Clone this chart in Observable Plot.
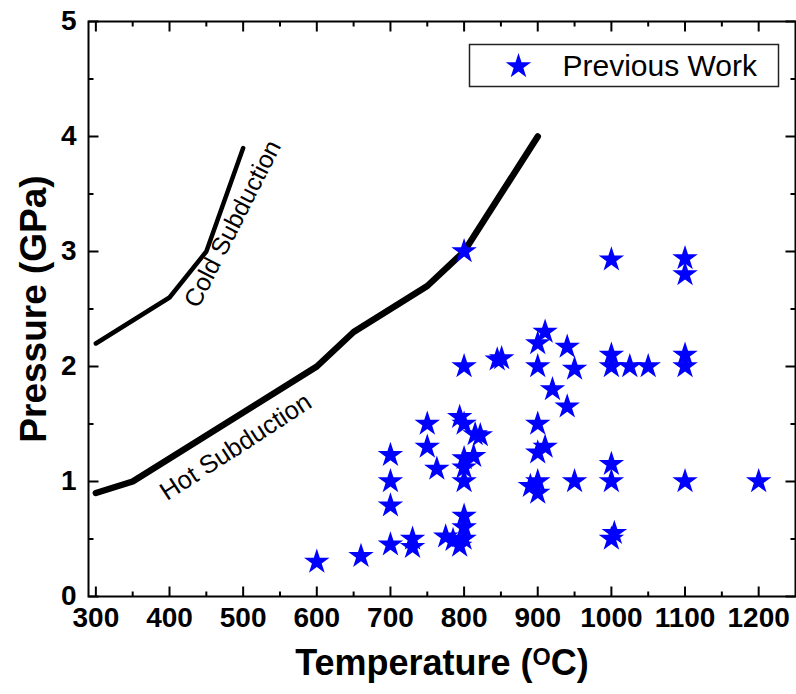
<!DOCTYPE html>
<html><head><meta charset="utf-8">
<script src="https://cdn.jsdelivr.net/npm/d3@7"></script>
<script src="https://cdn.jsdelivr.net/npm/@observablehq/plot@0.6"></script>
<style>
body{margin:0;background:#fff}
#chart svg{font-family:"Liberation Sans", Arial, sans-serif}
</style>
</head><body><div id="chart"></div>
<script>
// ---- data ----
const xDomain = [290, 1250];
const yDomain = [0, 5];
const xTicks = [300, 400, 500, 600, 700, 800, 900, 1000, 1100, 1200];
const xMinorTicks = [350, 450, 550, 650, 750, 850, 950, 1050, 1150];
const yTicks = [0, 1, 2, 3, 4, 5];
const yMinorTicks = [0.5, 1.5, 2.5, 3.5, 4.5];

const coldT = [300, 400, 450, 500];
const coldP = [2.2, 2.6, 3.0, 3.9];
const hotT = [300, 350, 600, 650, 750, 800, 900];
const hotP = [0.9, 1.0, 2.0, 2.3, 2.7, 3.0, 4.0];

const prevT = [600, 660, 700, 700, 700, 700, 730, 730, 750, 750, 763,
  775, 785, 794, 800, 800, 800, 794, 800, 815, 822, 800, 813, 800, 800,
  800, 800, 845, 851, 890, 900, 900, 900, 910, 900,
  900, 900, 910, 920, 940, 940, 950, 950,
  1000, 1000, 1000, 1000, 1000, 1000, 1004, 1025, 1050,
  1100, 1100, 1100, 1100, 1100, 1200];
const prevP = [0.3, 0.35, 0.45, 0.79, 1.0, 1.23, 0.5, 0.43, 1.5, 1.3, 1.11,
  0.52, 0.49, 0.44, 0.5, 0.6, 0.7, 1.56, 1.5, 1.41, 1.40, 1.2, 1.22, 1.12, 1.0,
  2.0, 3.0, 2.06, 2.07, 0.96, 1.0, 0.9, 1.25, 1.3, 1.5,
  2.0, 2.2, 2.3, 1.8, 2.17, 1.65, 1.98, 1.0,
  2.93, 2.1, 2.0, 1.15, 1.0, 0.5, 0.55, 2.0, 2.0,
  2.94, 2.8, 2.1, 2.0, 1.0, 1.0];

const annText = ["Cold Subduction", "Hot Subduction"];
const annT = [486, 490];
const annP = [3.24, 1.30];
const annAngle = [-63, -33];
const annSize = [25, 25.5];

const xTitle = "Temperature (OC)";
const yTitle = "Pressure (GPa)";
const legendLabel = "Previous Work";

// ---- tables ----
const cold = coldT.map((t, i) => ({t, p: coldP[i]}));
const hot = hotT.map((t, i) => ({t, p: hotP[i]}));
const prev = prevT.map((t, i) => ({t, p: prevP[i]}));
const ann = annText.map((s, i) => ({s, t: annT[i], p: annP[i], a: annAngle[i], fs: annSize[i]}));

const tickSym = (dx, dy) => ({draw(ctx, size) { const l = Math.sqrt(size / Math.PI); ctx.moveTo(0, 0); ctx.lineTo(dx * l, dy * l); }});
const tickMarks = (vals, axis, len) => {
  const o = {r: len, stroke: "black", strokeWidth: 2, fill: "none"};
  if (axis === "bottom") return Plot.dot(vals, {...o, x: d => d, y: () => yDomain[0], symbol: tickSym(0, -1)});
  if (axis === "top") return Plot.dot(vals, {...o, x: d => d, y: () => yDomain[1], symbol: tickSym(0, 1)});
  if (axis === "left") return Plot.dot(vals, {...o, y: d => d, x: () => xDomain[0], symbol: tickSym(1, 0)});
  return Plot.dot(vals, {...o, y: d => d, x: () => xDomain[1], symbol: tickSym(-1, 0)});
};

const W = 796, H = 694;
const mL = 88, mR = 1, mT = 21, mB = 98;

const chart = Plot.plot({
  width: W, height: H,
  marginLeft: mL, marginRight: mR, marginTop: mT, marginBottom: mB,
  x: {domain: xDomain},
  y: {domain: yDomain},
  style: {overflow: "visible", background: "white"},
  marks: [
    Plot.line(cold, {x: "t", y: "p", stroke: "black", strokeWidth: 4.5}),
    Plot.line(hot, {x: "t", y: "p", stroke: "black", strokeWidth: 6.5}),
    ...ann.map(a => Plot.text([a], {x: "t", y: "p", text: "s", rotate: a.a, fontSize: a.fs, fill: "black"})),
    Plot.dot(prev, {x: "t", y: "p", symbol: "star", r: 8, fill: "#0000ff"}),
    tickMarks(xTicks, "bottom", 10), tickMarks(xMinorTicks, "bottom", 5),
    tickMarks(xTicks, "top", 10), tickMarks(xMinorTicks, "top", 5),
    tickMarks(yTicks, "left", 10), tickMarks(yMinorTicks, "left", 5),
    tickMarks(yTicks, "right", 10), tickMarks(yMinorTicks, "right", 5),
    Plot.frame({stroke: "black", strokeWidth: 2}),
    Plot.axisX(xTicks, {tickSize: 0, tickPadding: 11, tickFormat: d => String(d), fontSize: 28, fontWeight: "bold", label: null, fill: "black"}),
    Plot.axisY(yTicks, {tickSize: 0, tickPadding: 12, tickFormat: d => String(d), fontSize: 28, fontWeight: "bold", label: null, fill: "black"}),
    Plot.text([xTitle], {frameAnchor: "bottom", dy: 67, lineAnchor: "middle", textAnchor: "middle", fontSize: 36, fontWeight: "bold", fill: "black"}),
    Plot.text([yTitle], {frameAnchor: "left", dx: -54, rotate: -90, lineAnchor: "middle", textAnchor: "middle", fontSize: 37, fontWeight: "bold", fill: "black"}),
    // legend
    Plot.frame({insetLeft: 381, insetTop: 23, insetRight: 17, insetBottom: 510, stroke: "#222", strokeWidth: 1.5, fill: "white"}),
    Plot.dot([legendLabel], {frameAnchor: "top-left", dx: 430, dy: 45, symbol: "star", r: 8, fill: "#0000ff"}),
    Plot.text([legendLabel], {frameAnchor: "top-left", dx: 474, dy: 45, lineAnchor: "middle", textAnchor: "start", fontSize: 30, fill: "black"})
  ]
});

// superscript O in the x title
d3.select(chart).selectAll("text").filter(function() { return this.textContent === xTitle; })
  .each(function() {
    const t = d3.select(this);
    t.text(null);
    t.append("tspan").text("Temperature (");
    t.append("tspan").attr("dy", "-0.45em").attr("font-size", "0.65em").text("O");
    t.append("tspan").attr("dy", "0.3em").text("C)");
  });

document.getElementById("chart").appendChild(chart);
</script>
</body></html>
